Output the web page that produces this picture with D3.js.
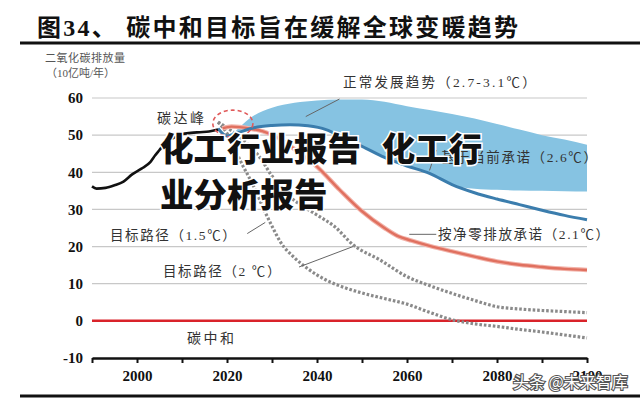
<!DOCTYPE html>
<html><head><meta charset="utf-8">
<script src="https://cdn.jsdelivr.net/npm/d3@7/dist/d3.min.js"></script>
<style>
html,body{margin:0;padding:0;background:#fff;}
svg{display:block;}
.cjk{font-family:"Liberation Serif","Noto Sans CJK SC",serif;}
</style></head>
<body>
<script>
// ---------- data ----------
const histYears = [1990,1991,1993,1995,1997,1999,2001,2003,2004,2005,2006,2008,2010,2012,2014,2016,2018];
const histValues = [36.2,35.6,35.8,36.5,37.5,39.5,41,42.8,44.5,46,47.5,49.2,50.3,50.6,50.8,51,51.5];

const bandYears = [2022,2025,2030,2035,2040,2045,2050,2055,2060,2065,2070,2075,2080,2085,2090,2095,2100];
const bandUpper = [51.2,54.5,57.4,58.7,59.3,59.6,59.6,59,57.8,56.8,55.7,54.5,53,51.5,50,48.8,47.4];
const bandLower = [51.0,51.8,52.6,52.8,52,49.8,47,44,41.7,39.7,36.6,35.6,35.3,35.1,35,34.9,34.8];

const pledgeYears = [2018,2020,2022,2026,2030,2034,2038,2042,2046,2050,2055,2060,2065,2070,2075,2080,2085,2090,2095,2100];
const pledgeValues = [51.8,49.8,50.5,52,52.6,52.8,52.5,51.5,49.2,47,44,41.7,39.7,36.7,34.5,32.8,31.3,29.8,28.4,27.2];

const netZeroYears = [2019,2021,2025,2028,2031,2033,2036,2040,2045,2050,2055,2058,2061,2065,2070,2075,2080,2085,2090,2095,2100];
const netZeroValues = [51.8,52.3,51.8,51,49.5,48,45.3,41.5,35.3,29.5,25,22.8,21.6,20.2,18.7,17.3,16,15.1,14.5,14,13.7];

const path15Years = [2018,2020,2023,2026,2028,2030,2032,2035,2038,2042,2046,2050,2055,2060,2065,2070,2075,2080,2085,2090,2095,2100];
const path15Values = [53.5,50.5,43,36,30.5,25.5,21,17,14,11,9,7.5,6,4.5,2.3,0.3,-0.8,-1.5,-2.3,-3,-3.8,-4.6];

const path2Years = [2018,2020,2023,2027,2030,2033,2036,2040,2044,2048,2054,2060,2065,2070,2075,2080,2085,2090,2095,2100];
const path2Values = [53.5,52,49.3,44.5,39,34.5,31.5,28.5,25.3,20.5,16.4,11.9,9.5,7.4,5.5,3.8,3.2,2.8,2.5,2.2];

const yTicks = [60,50,40,30,20,10,0,-10];
const xTicks = [1990,2000,2010,2020,2030,2040,2050,2060,2070,2080,2090,2100];
const xLabelYears = [2000,2020,2040,2060,2080,2100];

const title = "图34、 碳中和目标旨在缓解全球变暖趋势";
const yTitle1 = "二氧化碳排放量";
const yTitle2 = "（10亿吨/年）";
const labels = {
  peak: "碳达峰",
  neutral: "碳中和",
  normal: "正常发展趋势（2.7-3.1℃）",
  pledge: "基于当前承诺（2.6℃）",
  netzero: "按净零排放承诺（2.1℃）",
  p15: "目标路径（1.5℃）",
  p2: "目标路径（2 ℃）"
};
const overlay1a = "化工行业报告";
const overlay1b = "化工行";
const overlay2 = "业分析报告";
const watermark = "头条 @未来智库";

// ---------- chart ----------
const W = 640, H = 402;
const svg = d3.select("body").append("svg").attr("width", W).attr("height", H);

const x = d3.scaleLinear().domain([1990, 2100]).range([92, 587]);
const y = d3.scaleLinear().domain([-10, 60]).range([358, 98]);

// title
svg.append("text").attr("class","cjk").attr("x", 37).attr("y", 36)
  .attr("font-size", 24).attr("font-weight", "bold").attr("fill", "#111")
  .attr("textLength", 481).attr("lengthAdjust", "spacing").text(title);
svg.append("rect").attr("x", 20).attr("y", 41.5).attr("width", 620).attr("height", 3).attr("fill", "#111");
svg.append("rect").attr("x", 20).attr("y", 394.5).attr("width", 620).attr("height", 3).attr("fill", "#111");

// y title
svg.append("text").attr("class","cjk").attr("x", 45).attr("y", 62).attr("font-size", 11).attr("letter-spacing", 0.5).attr("fill", "#555").text(yTitle1);
svg.append("text").attr("class","cjk").attr("x", 46).attr("y", 77).attr("font-size", 11).attr("fill", "#555").text(yTitle2);

// gridlines
svg.append("g").selectAll("line").data(yTicks.filter(d => d > 0)).join("line")
  .attr("x1", x(1990)).attr("x2", x(2100)).attr("y1", d => y(d)).attr("y2", d => y(d))
  .attr("stroke", "#c8c8c8").attr("stroke-width", 1.2);

// y labels
svg.append("g").selectAll("text").data(yTicks).join("text")
  .attr("x", 83).attr("y", d => y(d)).attr("dy", "0.35em").attr("text-anchor", "end")
  .attr("font-family", "Liberation Serif, serif").attr("font-weight", "bold").attr("font-size", 15)
  .attr("fill", "#111").text(d => d);

// band
const area = d3.area().x(d => x(d[0])).y0(d => y(d[2])).y1(d => y(d[1])).curve(d3.curveMonotoneX);
svg.append("path").datum(bandYears.map((yr, i) => [yr, bandUpper[i], bandLower[i]]))
  .attr("d", area).attr("fill", "#86c3e2");

const line = d3.line().x(d => x(d[0])).y(d => y(d[1])).curve(d3.curveMonotoneX);
const zip = (a, b) => a.map((v, i) => [v, b[i]]);

// zero line
svg.append("line").attr("x1", x(1990)).attr("x2", x(2100)).attr("y1", y(0)).attr("y2", y(0))
  .attr("stroke", "#d9232a").attr("stroke-width", 2.5);

// dotted paths
[[path15Years, path15Values], [path2Years, path2Values]].forEach(([ys, vs]) => {
  svg.append("path").datum(zip(ys, vs)).attr("d", line).attr("fill", "none")
    .attr("stroke", "#8a8a8a").attr("stroke-width", 3.2).attr("stroke-dasharray", "2.6,1.9");
});

// net zero red
svg.append("path").datum(zip(netZeroYears, netZeroValues)).attr("d", line).attr("fill", "none")
  .attr("stroke", "#f2b3aa").attr("stroke-width", 4.5);
svg.append("path").datum(zip(netZeroYears, netZeroValues)).attr("d", line).attr("fill", "none")
  .attr("stroke", "#e0705f").attr("stroke-width", 2.4);

// pledge blue
svg.append("path").datum(zip(pledgeYears, pledgeValues)).attr("d", line).attr("fill", "none")
  .attr("stroke", "#3b7dad").attr("stroke-width", 3);

// history black
svg.append("path").datum(zip(histYears, histValues)).attr("d", line).attr("fill", "none")
  .attr("stroke", "#111").attr("stroke-width", 2.6);

// dashed circle (peak)
svg.append("ellipse").attr("cx", x(2021.3)).attr("cy", y(53.1)).attr("rx", 20).attr("ry", 13.5)
  .attr("fill", "none").attr("stroke", "#e05a5a").attr("stroke-width", 1.6).attr("stroke-dasharray", "4,3");

// x axis
const xAxis = d3.axisBottom(x).tickValues(xTicks).tickSize(5).tickSizeOuter(0).tickPadding(7)
  .tickFormat(d => xLabelYears.includes(d) ? d : "");
const gx = svg.append("g").attr("transform", `translate(0,${y(-10)})`).call(xAxis);
gx.select(".domain").attr("stroke", "#111").attr("stroke-width", 2.5);
gx.selectAll(".tick line").attr("stroke", "#111").attr("stroke-width", 2);
gx.selectAll(".tick text").attr("font-family", "Liberation Serif, serif").attr("font-weight", "bold")
  .attr("font-size", 15).attr("fill", "#111");

// annotations
const ann = (t, xx, yy, size, ls, anchor) => svg.append("text").attr("class", "cjk").attr("x", xx).attr("y", yy)
  .attr("font-size", size).attr("letter-spacing", ls).attr("fill", "#333").attr("text-anchor", anchor || "start").text(t);
const conn = (x1, y1, x2, y2) => svg.append("line").attr("x1", x1).attr("y1", y1).attr("x2", x2).attr("y2", y2)
  .attr("stroke", "#666").attr("stroke-width", 1);

ann(labels.peak, 157, 123, 14, 2.5);
ann(labels.neutral, 187, 343, 14, 2.5);
ann(labels.normal, 343, 87, 13.5, 2.2);
conn(x(2045), y(60) + 1, x(2037.5), y(55));
ann(labels.pledge, 441, 162, 13.5, 1.6);
conn(x(2066.5), y(46), x(2065), y(40.5));
ann(labels.netzero, 438, 239, 13.5, 1.6);
conn(x(2060.5), y(23.3), x(2066.5), y(23.3));
ann(labels.p15, 110, 240, 13.5, 1.6);
conn(x(2024.5), y(23.5), x(2028.5), y(26.5));
ann(labels.p2, 163, 276, 13.5, 1.6);
conn(x(2036), y(14.5), x(2048), y(20));

// overlay watermark text
const ovStyle = sel => sel.attr("font-family", "Noto Sans CJK SC, sans-serif").attr("font-weight", 900).attr("font-size", 33.5)
    .attr("fill", "#111").attr("stroke", "#fff").attr("stroke-width", 3).attr("paint-order", "stroke");
const ov1 = svg.append("text").attr("x", 160).attr("y", 161).call(ovStyle);
ov1.append("tspan").text(overlay1a + " ");
ov1.append("tspan").attr("dx", 13).text(overlay1b);
svg.append("text").attr("x", 160).attr("y", 207).call(ovStyle).text(overlay2);

svg.append("text").attr("x", 513).attr("y", 388)
  .attr("font-family", "Noto Sans CJK SC, sans-serif").attr("font-size", 16)
  .attr("fill", "#fff").attr("stroke", "#555").attr("stroke-width", 2.2).attr("paint-order", "stroke")
  .text(watermark);
</script>
</body></html>
